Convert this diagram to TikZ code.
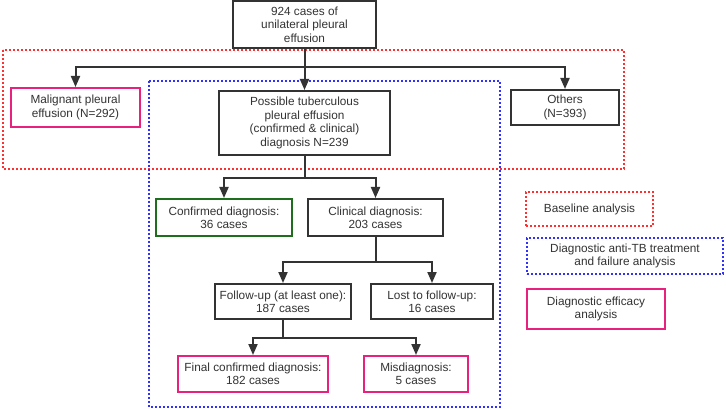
\documentclass[tikz,border=0pt]{standalone}
\usepackage{fontspec}
\setmainfont{Liberation Sans}
\usetikzlibrary{arrows.meta}

\definecolor{linegray}{HTML}{333333}
\definecolor{boxpink}{HTML}{E8217F}
\definecolor{boxgreen}{HTML}{1E6E1E}
\definecolor{dotred}{HTML}{FF3030}
\definecolor{dotblue}{HTML}{3030FF}

\tikzset{
  box/.style={draw=linegray, line width=2pt, fill=white, inner sep=0pt, align=center,
    font=\fontsize{11.8}{13.4}\selectfont, text=linegray},
  pinkbox/.style={box, draw=boxpink},
  greenbox/.style={box, draw=boxgreen},
  redframe/.style={draw=dotred, line width=2pt, dash pattern=on 2pt off 2pt},
  blueframe/.style={draw=dotblue, line width=2pt, dash pattern=on 2pt off 2pt},
  arr/.style={draw=linegray, line width=2pt, -{Triangle[length=11pt,width=9pt]}}
}

\begin{document}
\begin{tikzpicture}[x=1pt,y=-1pt]

    \useasboundingbox (0,0) rectangle (726,409);

    % analysis frames
    \draw[redframe] (3,50) rectangle (624,169);
    \draw[blueframe] (149,81) rectangle (500,407);

    \node (top) at (304.5,24.5) [box, minimum width=143pt, minimum height=47pt] {924 cases of\\unilateral pleural\\effusion};
    \node (mal) at (75.5,107.5) [pinkbox, minimum width=129pt, minimum height=39pt] {Malignant pleural\\effusion (N=292)};
    \node (poss) at (304.5,123) [box, minimum width=171pt, minimum height=64pt] {Possible tuberculous\\pleural effusion\\(confirmed \& clinical)\\diagnosis N=239};
    \node (oth) at (565,107.5) [box, minimum width=108pt, minimum height=35pt] {Others\\(N=393)};

    \node (conf) at (224,217.5) [greenbox, minimum width=136pt, minimum height=37pt] {Confirmed diagnosis:\\36 cases};
    \node (clin) at (375.5,217.5) [box, minimum width=135pt, minimum height=37pt] {Clinical diagnosis:\\203 cases};

    \node (fol) at (283,301.5) [box, minimum width=136pt, minimum height=35pt] {Follow-up (at least one):\\187 cases};
    \node (lost) at (432,301.5) [box, minimum width=122pt, minimum height=35pt] {Lost to follow-up:\\16 cases};

    \node (fin) at (253,374) [pinkbox, minimum width=150pt, minimum height=36pt] {Final confirmed diagnosis:\\182 cases};
    \node (mis) at (416,374) [pinkbox, minimum width=104pt, minimum height=36pt] {Misdiagnosis:\\5 cases};

    % legend
    \node (legred) at (589.5,209) [box, draw=dotred, dash pattern=on 2pt off 2pt, minimum width=127pt, minimum height=34pt] {Baseline analysis};
    \node (legblue) at (625,256) [box, draw=dotblue, dash pattern=on 2pt off 2pt, minimum width=196pt, minimum height=36pt] {Diagnostic anti-TB treatment\\and failure analysis};
    \node (legpink) at (596,309) [pinkbox, minimum width=138pt, minimum height=40pt] {Diagnostic efficacy\\analysis};

    \draw[arr] (top.south) -- ++(0,18) -| (mal.north);
    \draw[arr] (top.south) -- ++(0,18) -| (oth.north);
    \draw[arr] (top.south) -- (poss.north);

    \draw[arr] (poss.south) -- ++(0,22) -| (conf.north);
    \draw[arr] (poss.south) -- ++(0,22) -| (clin.north);

    \draw[arr] (clin.south) -- ++(0,25) -| (fol.north);
    \draw[arr] (clin.south) -- ++(0,25) -| (lost.north);

    \draw[arr] (fol.south) -- ++(0,18) -| (fin.north);
    \draw[arr] (fol.south) -- ++(0,18) -| (mis.north);

\end{tikzpicture}
\end{document}
